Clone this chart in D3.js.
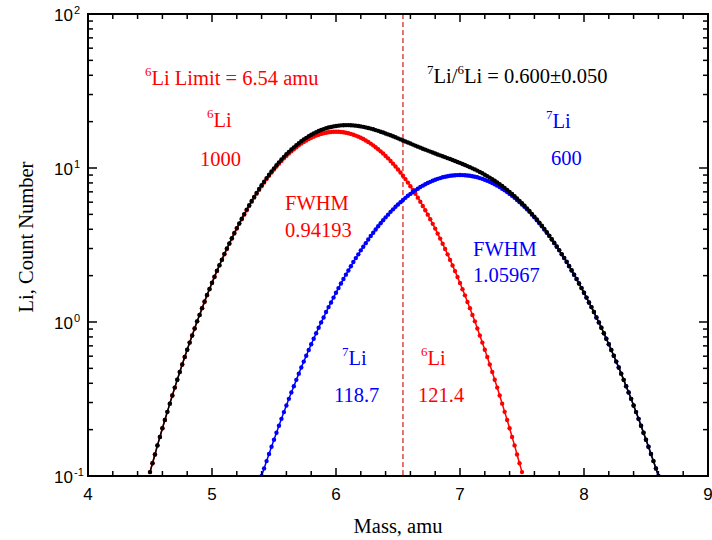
<!DOCTYPE html>
<html><head><meta charset="utf-8">
<script src="https://cdn.jsdelivr.net/npm/d3@7"></script>
<style>body{margin:0;background:#fff}</style>
</head><body><svg id="c" width="712" height="540"></svg>
<script>
const mass=[
4.50,4.52,4.54,4.56,4.58,4.60,4.62,4.64,4.66,4.68,
4.70,4.72,4.74,4.76,4.78,4.80,4.82,4.84,4.86,4.88,
4.90,4.92,4.94,4.96,4.98,5.00,5.02,5.04,5.06,5.08,
5.10,5.12,5.14,5.16,5.18,5.20,5.22,5.24,5.26,5.28,
5.30,5.32,5.34,5.36,5.38,5.40,5.42,5.44,5.46,5.48,
5.50,5.52,5.54,5.56,5.58,5.60,5.62,5.64,5.66,5.68,
5.70,5.72,5.74,5.76,5.78,5.80,5.82,5.84,5.86,5.88,
5.90,5.92,5.94,5.96,5.98,6.00,6.02,6.04,6.06,6.08,
6.10,6.12,6.14,6.16,6.18,6.20,6.22,6.24,6.26,6.28,
6.30,6.32,6.34,6.36,6.38,6.40,6.42,6.44,6.46,6.48,
6.50,6.52,6.54,6.56,6.58,6.60,6.62,6.64,6.66,6.68,
6.70,6.72,6.74,6.76,6.78,6.80,6.82,6.84,6.86,6.88,
6.90,6.92,6.94,6.96,6.98,7.00,7.02,7.04,7.06,7.08,
7.10,7.12,7.14,7.16,7.18,7.20,7.22,7.24,7.26,7.28,
7.30,7.32,7.34,7.36,7.38,7.40,7.42,7.44,7.46,7.48,
7.50,7.52,7.54,7.56,7.58,7.60,7.62,7.64,7.66,7.68,
7.70,7.72,7.74,7.76,7.78,7.80,7.82,7.84,7.86,7.88,
7.90,7.92,7.94,7.96,7.98,8.00,8.02,8.04,8.06,8.08,
8.10,8.12,8.14,8.16,8.18,8.20,8.22,8.24,8.26,8.28,
8.30,8.32,8.34,8.36,8.38,8.40,8.42,8.44,8.46,8.48,
8.50,8.52,8.54,8.56,8.58,8.60];

const li6Counts=[
.106,.121,.138,.158,.179,.204,.231,.261,.295,.333,
.375,.422,.473,.530,.592,.661,.735,.818,.907,1.01,
1.11,1.23,1.35,1.49,1.63,1.79,1.96,2.14,2.33,2.53,
2.75,2.98,3.22,3.48,3.75,4.04,4.34,4.65,4.98,5.32,
5.67,6.04,6.42,6.81,7.21,7.62,8.04,8.47,8.90,9.34,
9.78,10.22,10.67,11.11,11.55,11.98,12.41,12.83,13.24,13.64,
14.03,14.40,14.76,15.10,15.42,15.71,15.98,16.23,16.45,16.65,
16.82,16.95,17.06,17.14,17.18,17.20,17.18,17.14,17.06,16.95,
16.82,16.65,16.45,16.23,15.98,15.71,15.42,15.10,14.76,14.40,
14.03,13.64,13.24,12.83,12.41,11.98,11.55,11.11,10.67,10.22,
9.78,9.34,8.90,8.47,8.04,7.62,7.21,6.81,6.42,6.04,
5.67,5.32,4.98,4.65,4.34,4.04,3.75,3.48,3.22,2.98,
2.75,2.53,2.33,2.14,1.96,1.79,1.63,1.49,1.35,1.23,
1.11,1.01,.907,.818,.735,.661,.592,.530,.473,.422,
.375,.333,.295,.261,.231,.204,.179,.158,.138,.121,
.106,null,null,null,null,null,null,null,null,null,
null,null,null,null,null,null,null,null,null,null,
null,null,null,null,null,null,null,null,null,null,
null,null,null,null,null,null,null,null,null,null,
null,null,null,null,null,null,null,null,null,null,
null,null,null,null,null,null];

const li7Counts=[
null,null,null,null,null,null,null,null,null,null,
null,null,null,null,null,null,null,null,null,null,
null,null,null,null,null,null,null,null,null,null,
null,null,null,null,null,null,null,null,null,null,
null,null,null,null,null,.100,.112,.125,.139,.155,
.172,.191,.212,.235,.260,.287,.317,.349,.383,.421,
.462,.506,.553,.604,.658,.717,.779,.846,.918,.994,
1.07,1.16,1.25,1.34,1.44,1.55,1.66,1.78,1.90,2.03,
2.16,2.30,2.45,2.60,2.75,2.92,3.08,3.25,3.43,3.62,
3.80,3.99,4.19,4.38,4.58,4.78,4.98,5.19,5.39,5.60,
5.80,6.00,6.20,6.40,6.60,6.79,6.98,7.16,7.34,7.52,
7.68,7.84,7.99,8.13,8.27,8.39,8.50,8.60,8.70,8.78,
8.84,8.90,8.94,8.97,8.99,9.00,8.99,8.97,8.94,8.90,
8.84,8.78,8.70,8.60,8.50,8.39,8.27,8.13,7.99,7.84,
7.68,7.52,7.34,7.16,6.98,6.79,6.60,6.40,6.20,6.00,
5.80,5.60,5.39,5.19,4.98,4.78,4.58,4.38,4.19,3.99,
3.80,3.62,3.43,3.25,3.08,2.92,2.75,2.60,2.45,2.30,
2.16,2.03,1.90,1.78,1.66,1.55,1.44,1.34,1.25,1.16,
1.07,.994,.918,.846,.779,.717,.658,.604,.553,.506,
.462,.421,.383,.349,.317,.287,.260,.235,.212,.191,
.172,.155,.139,.125,.112,.100];

const totalCounts=[
.106,.121,.138,.158,.179,.204,.231,.261,.295,.333,
.375,.422,.473,.530,.592,.661,.735,.818,.907,1.01,
1.11,1.23,1.36,1.50,1.64,1.80,1.97,2.15,2.34,2.54,
2.77,3.00,3.24,3.50,3.78,4.07,4.37,4.69,5.02,5.37,
5.73,6.10,6.49,6.89,7.30,7.72,8.15,8.60,9.04,9.50,
9.95,10.41,10.88,11.35,11.81,12.27,12.73,13.18,13.62,14.06,
14.49,14.91,15.31,15.70,16.08,16.43,16.76,17.08,17.37,17.64,
17.89,18.11,18.31,18.48,18.62,18.75,18.84,18.92,18.96,18.98,
18.98,18.95,18.90,18.83,18.73,18.63,18.50,18.35,18.19,18.02,
17.83,17.63,17.43,17.21,16.99,16.76,16.53,16.30,16.06,15.82,
15.58,15.34,15.10,14.87,14.64,14.41,14.19,13.97,13.76,13.56,
13.35,13.16,12.97,12.78,12.61,12.43,12.25,12.08,11.92,11.76,
11.59,11.43,11.27,11.11,10.95,10.79,10.62,10.46,10.29,10.13,
9.95,9.79,9.61,9.42,9.24,9.05,8.86,8.66,8.46,8.26,
8.06,7.85,7.64,7.42,7.21,6.99,6.78,6.56,6.34,6.12,
5.91,5.69,5.47,5.26,5.04,4.83,4.63,4.42,4.22,4.02,
3.83,3.64,3.45,3.27,3.09,2.93,2.76,2.61,2.46,2.31,
2.17,2.03,1.90,1.78,1.66,1.55,1.44,1.34,1.25,1.16,
1.07,.994,.918,.846,.779,.717,.658,.604,.553,.506,
.462,.421,.383,.349,.317,.287,.260,.235,.212,.191,
.172,.155,.139,.125,.112,.100];

const xTickLabels=["4","5","6","7","8","9"];
const xTickValues=[4,5,6,7,8,9];
const yTickValues=[0.1,1,10,100];
const yTickExponents=["-1","0","1","2"];
const limitMass=6.54;

const L=88,R=708,T=14,B=476;
const svg=d3.select("#c");
const x=d3.scaleLinear().domain([4,9]).range([L,R]);
const y=d3.scaleLog().domain([0.1,100]).range([B,T]);

svg.append("defs").append("clipPath").attr("id","clip")
  .append("rect").attr("x",L).attr("y",T).attr("width",R-L).attr("height",B-T);

const serif="'Liberation Serif','Times New Roman',serif";
const sans="'Liberation Sans',Arial,sans-serif";

// dashed limit line
svg.append("line").attr("x1",x(limitMass)).attr("x2",x(limitMass))
  .attr("y1",T).attr("y2",B).attr("stroke","#d01818").attr("stroke-width",1.2)
  .attr("stroke-dasharray","5,3");

const plot=svg.append("g").attr("clip-path","url(#clip)");
function drawSeries(vals,color){
  const pts=mass.map((m,i)=>[m,vals[i]]).filter(d=>d[1]!=null);
  plot.append("path").datum(pts)
    .attr("d",d3.line().x(d=>x(d[0])).y(d=>y(d[1])))
    .attr("fill","none").attr("stroke",color).attr("stroke-width",1.5);
  plot.append("g").selectAll("circle").data(pts).join("circle")
    .attr("cx",d=>x(d[0])).attr("cy",d=>y(d[1])).attr("r",2.2).attr("fill",color);
}
drawSeries(li6Counts,"#ff0000");
drawSeries(li7Counts,"#0000ff");
drawSeries(totalCounts,"#000000");

// axes ticks
const xMinor=d3.range(4,9.0001,0.2).filter(v=>Math.abs(v-Math.round(v))>1e-6);
const yMinor=[];
[0.1,1,10].forEach(d=>{for(let m=2;m<=9;m++) yMinor.push(d*m);});
const tk=svg.append("g").attr("stroke","#000").attr("stroke-width",1.5);
xTickValues.forEach(v=>{
  tk.append("line").attr("x1",x(v)).attr("x2",x(v)).attr("y1",B).attr("y2",B-8);
  tk.append("line").attr("x1",x(v)).attr("x2",x(v)).attr("y1",T).attr("y2",T+8);
});
xMinor.forEach(v=>{
  tk.append("line").attr("x1",x(v)).attr("x2",x(v)).attr("y1",B).attr("y2",B-5);
  tk.append("line").attr("x1",x(v)).attr("x2",x(v)).attr("y1",T).attr("y2",T+5);
});
yTickValues.forEach(v=>{
  tk.append("line").attr("y1",y(v)).attr("y2",y(v)).attr("x1",L).attr("x2",L+9);
  tk.append("line").attr("y1",y(v)).attr("y2",y(v)).attr("x1",R).attr("x2",R-9);
});
yMinor.forEach(v=>{
  tk.append("line").attr("y1",y(v)).attr("y2",y(v)).attr("x1",L).attr("x2",L+5);
  tk.append("line").attr("y1",y(v)).attr("y2",y(v)).attr("x1",R).attr("x2",R-5);
});
svg.append("rect").attr("x",L).attr("y",T).attr("width",R-L).attr("height",B-T)
  .attr("fill","none").attr("stroke","#000").attr("stroke-width",2);

// tick labels
xTickValues.forEach((v,i)=>{
  svg.append("text").attr("x",x(v)).attr("y",B+24).attr("text-anchor","middle")
    .attr("font-family",sans).attr("font-size",17).text(xTickLabels[i]);
});
yTickValues.forEach((v,i)=>{
  svg.append("text").attr("x",73).attr("y",y(v)+7).attr("text-anchor","end")
    .attr("font-family",sans).attr("font-size",17).text("10");
  svg.append("text").attr("x",74).attr("y",y(v)).attr("text-anchor","start")
    .attr("font-family",sans).attr("font-size",11).text(yTickExponents[i]);
});

// axis titles
svg.append("text").attr("x",398).attr("y",533).attr("text-anchor","middle")
  .attr("font-family",serif).attr("font-size",20.5).text("Mass, amu");
svg.append("text").attr("transform","translate(33,237) rotate(-90)").attr("text-anchor","middle")
  .attr("font-family",serif).attr("font-size",20.5).text("Li, Count Number");

// annotations
function label(xp,yp,color,parts){
  const t=svg.append("text").attr("x",xp).attr("y",yp).attr("fill",color)
    .attr("font-family",serif).attr("font-size",20.5);
  let shift=0;
  parts.forEach(p=>{
    if(p.sup){ t.append("tspan").attr("font-size",13).attr("dy",-9-shift).text(p.sup); shift=-9; }
    else { t.append("tspan").attr("dy",-shift).text(p.t); shift=0; }
  });
}
label(145,85,"#ff0000",[{sup:"6"},{t:"Li Limit = 6.54 amu"}]);
label(207,127,"#ff0000",[{sup:"6"},{t:"Li"}]);
label(200,166,"#ff0000",[{t:"1000"}]);
label(427,83,"#000000",[{sup:"7"},{t:"Li/"},{sup:"6"},{t:"Li = 0.600±0.050"}]);
label(546,128,"#0000ff",[{sup:"7"},{t:"Li"}]);
label(551,165,"#0000ff",[{t:"600"}]);
label(285,210,"#ff0000",[{t:"FWHM"}]);
label(285,237,"#ff0000",[{t:"0.94193"}]);
label(473,256,"#0000ff",[{t:"FWHM"}]);
label(473,282,"#0000ff",[{t:"1.05967"}]);
label(342,365,"#0000ff",[{sup:"7"},{t:"Li"}]);
label(334,402,"#0000ff",[{t:"118.7"}]);
label(421,365,"#ff0000",[{sup:"6"},{t:"Li"}]);
label(418,402,"#ff0000",[{t:"121.4"}]);
</script></body></html>
